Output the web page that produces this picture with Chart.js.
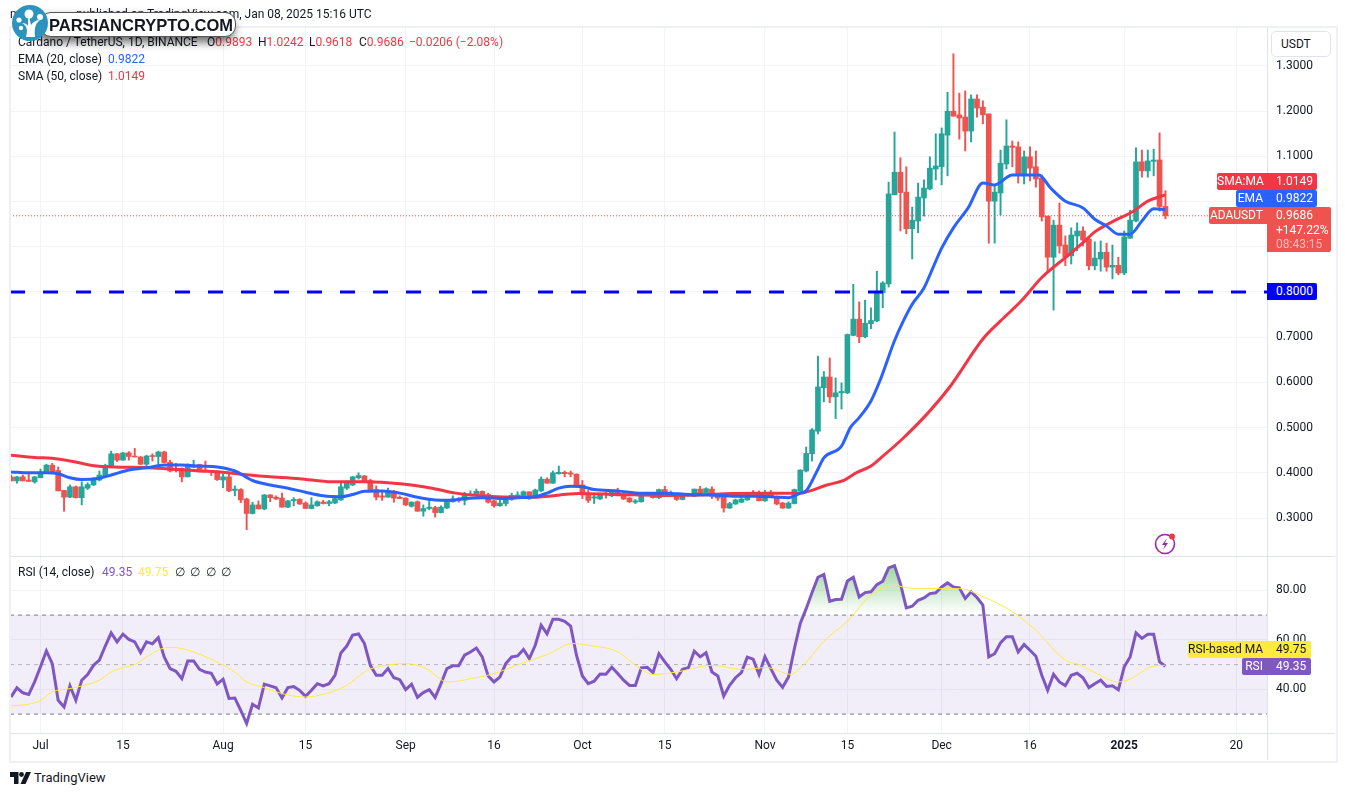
<!DOCTYPE html>
<html>
<head>
<meta charset="utf-8">
<title>ADAUSDT</title>
<script src="https://cdn.jsdelivr.net/npm/chart.js@4/dist/chart.umd.js"></script>
<style>
html, body { margin: 0; padding: 0; background: #fff; }
body { width: 1345px; height: 796px; position: relative; overflow: hidden; font-family: Roboto, sans-serif; font-size: 12px; color: #131722; }
canvas { position: absolute; left: 0; }
#frame { position: absolute; left: 9px; top: 26px; width: 1325px; height: 733px; border: 2px solid #eef0f5; pointer-events: none; }
.line { position: absolute; background: #e0e3eb; }
.t { position: absolute; white-space: nowrap; line-height: 16px; height: 16px; }
.tag { position: absolute; color: #fff; white-space: nowrap; text-align: right; line-height: 17px; height: 17px; padding-right: 4px; box-sizing: border-box; border-radius: 2px 0 0 2px; }
.val { position: absolute; color: #fff; white-space: nowrap; text-align: left; line-height: 17px; height: 17px; padding-left: 9px; box-sizing: border-box; border-radius: 0 2px 2px 0; }
.red { color: #f23645; }
#logoPill { position: absolute; left: 40px; top: 12px; width: 196px; height: 25px; background: #fff; border: 1px solid #555; border-radius: 11px; box-sizing: border-box; box-shadow: -2px 5px 10px rgba(0,0,0,.6); font-family: "Liberation Sans", sans-serif; font-weight: bold; font-size: 16.5px; line-height: 24px; padding-left: 8px; color: #131722; white-space: nowrap; }
</style>
</head>
<body>
<canvas id="graficoPreco" width="1345" height="556" style="top:0"></canvas>
<canvas id="graficoRsi" width="1345" height="205" style="top:556px"></canvas>

<div id="frame"></div>
<div class="line" style="left:10px;top:556px;width:1325px;height:1px"></div>
<div class="line" style="left:10px;top:733px;width:1325px;height:1px"></div>
<div class="line" style="left:1267px;top:27px;width:1px;height:733px"></div>

<div class="t" style="left:10px;top:6px">m</div>
<div class="t" style="left:76px;top:6px">published on TradingView.com, Jan 08, 2025 15:16 UTC</div>

<div class="t" style="left:18px;top:34px">Cardano / TetherUS, 1D, BINANCE</div>
<div class="t" style="left:207px;top:34px">O<span class="red">0.9893</span></div>
<div class="t" style="left:258px;top:34px">H<span class="red">1.0242</span></div>
<div class="t" style="left:309px;top:34px">L<span class="red">0.9618</span></div>
<div class="t" style="left:359px;top:34px">C<span class="red">0.9686</span></div>
<div class="t red" style="left:409px;top:34px">−0.0206 (−2.08%)</div>
<div class="t" style="left:18px;top:51px">EMA (20, close)</div>
<div class="t" style="left:108px;top:51px;color:#2962ff">0.9822</div>
<div class="t" style="left:18px;top:68px">SMA (50, close)</div>
<div class="t red" style="left:108px;top:68px">1.0149</div>

<div class="t" style="left:18px;top:564px">RSI (14, close)</div>
<div class="t" style="left:102px;top:564px;color:#7e57c2">49.35</div>
<div class="t" style="left:138px;top:564px;color:#ffeb3b">49.75</div>
<div class="t" style="left:175px;top:564px">∅</div>
<div class="t" style="left:190px;top:564px">∅</div>
<div class="t" style="left:206px;top:564px">∅</div>
<div class="t" style="left:221px;top:564px">∅</div>

<div class="t" style="left:1271px;top:31px;width:60px;height:26px;box-sizing:border-box;border:1px solid #e0e3eb;border-radius:5px;line-height:24px;padding-left:9px;background:#fff">USDT</div>

<div class="tag" style="left:1217px;top:173px;width:50px;background:#f23645">SMA:MA</div>
<div class="val" style="left:1267px;top:173px;width:50px;background:#f23645">1.0149</div>
<div class="tag" style="left:1236px;top:190px;width:31px;background:#2962ff">EMA</div>
<div class="val" style="left:1267px;top:190px;width:50px;background:#2962ff">0.9822</div>
<div class="tag" style="left:1209px;top:207px;width:58px;background:#ef5350">ADAUSDT</div>
<div class="val" style="left:1267px;top:207px;width:64px;height:45px;background:#ef5350;line-height:14.5px;padding-top:1px">0.9686<br>+147.22%<br><span style="opacity:.6">08:43:15</span></div>
<div class="val" style="left:1267px;top:283px;width:50px;background:#0000ff">0.8000</div>
<div class="tag" style="left:1188px;top:641px;width:79px;background:#ffeb3b;color:#131722">RSI-based MA</div>
<div class="val" style="left:1267px;top:641px;width:44px;background:#ffeb3b;color:#131722">49.75</div>
<div class="tag" style="left:1242px;top:658px;width:25px;background:#7e57c2">RSI</div>
<div class="val" style="left:1267px;top:658px;width:44px;background:#7e57c2">49.35</div>

<svg style="position:absolute;left:1153px;top:531px" width="26" height="26" viewBox="0 0 26 26">
  <circle cx="12" cy="13" r="9.5" fill="none" stroke="#9c27b0" stroke-width="1.6"/>
  <path d="M14 7 L9 14 L12 14 L10 19 L15 12 L12 12 Z" fill="#9c27b0"/>
  <circle cx="19" cy="5.5" r="3" fill="#f23645"/>
</svg>

<div id="logoPill">PARSIANCRYPTO.COM</div>
<svg style="position:absolute;left:12px;top:5px" width="36" height="36" viewBox="0 0 36 36">
  <circle cx="18" cy="18" r="18" fill="#2b93bd"/>
  <path d="M14 32 C16 25 15 21 10 18 C13 18 15 19 16 21 C16 16 16 13 17 11 C18 14 18 17 19 20 C21 17 24 15 28 15 C24 18 22 22 23 32 Z" fill="#fff"/>
  <circle cx="17" cy="9" r="4.5" fill="#fff"/>
  <circle cx="7" cy="15" r="2.6" fill="#fff"/>
  <circle cx="9" cy="23" r="2.2" fill="#fff"/>
  <circle cx="28" cy="12" r="3" fill="#fff"/>
</svg>

<svg style="position:absolute;left:10px;top:772px" width="21" height="12" viewBox="0 0 21 12">
  <path d="M0 0 H8.5 V12 H4 V5 H0 Z" fill="#131722"/>
  <circle cx="11.5" cy="2.5" r="2.4" fill="#131722"/>
  <path d="M16 0 H21 L15.5 12 H10.5 Z" fill="#131722"/>
</svg>
<div class="t" style="left:34px;top:770px;font-size:13px">TradingView</div>

<script>
// dias contados a partir de 1 de julho de 2024
const primeiroDia = -5;

const opens = [
.391,.382,.391,.384,.380,
.389,.399,.417,.405,.361,.346,.369,.345,.366,.373,
.384,.393,.413,.442,.428,.444,.437,.435,.419,.438,
.436,.446,.423,.410,.410,.391,.412,.418,.406,.404,
.402,.384,.391,.361,.363,.342,.310,.329,.320,.351,
.346,.344,.324,.338,.341,.333,.321,.327,.335,.332,
.333,.340,.366,.373,.389,.393,.383,.363,.349,.346,
.358,.346,.344,.326,.336,.315,.321,.323,.312,.322,
.336,.341,.339,.350,.350,.359,.352,.338,.327,.332,
.341,.348,.348,.358,.347,.360,.386,.377,.398,.401,
.400,.397,.373,.351,.344,.342,.355,.349,.357,.352,
.344,.335,.336,.351,.352,.345,.363,.356,.351,.341,
.349,.348,.364,.355,.364,.349,.346,.322,.331,.335,
.340,.356,.355,.338,.356,.347,.333,.322,.332,.360,
.404,.442,.492,.588,.612,.568,.577,.577,.704,.740,
.701,.730,.736,.798,.818,1.015,1.065,1.021,.940,.957,
1.008,1.028,1.072,1.077,1.147,1.200,1.192,1.187,1.156,1.227,
1.209,1.194,1.001,1.019,1.083,1.123,1.121,1.059,1.099,1.077,
1.052,.968,.877,.948,.904,.880,.924,.935,.917,.858,
.873,.888,.855,.859,.842,.919,.957,1.088,1.068,1.089,
1.092,.9893];

const highs = [
.395,.392,.395,.400,.392,
.408,.419,.421,.413,.361,.373,.371,.380,.378,.389,
.404,.419,.448,.443,.445,.447,.454,.436,.439,.442,
.448,.448,.428,.421,.411,.420,.428,.419,.426,.405,
.404,.397,.397,.371,.365,.344,.335,.338,.352,.352,
.349,.355,.339,.345,.343,.336,.345,.338,.339,.339,
.346,.378,.382,.392,.400,.394,.386,.371,.360,.366,
.361,.349,.345,.336,.338,.329,.340,.326,.327,.340,
.349,.345,.357,.360,.364,.360,.355,.339,.341,.346,
.355,.358,.360,.358,.364,.391,.389,.404,.415,.404,
.404,.398,.383,.361,.351,.355,.357,.358,.366,.355,
.346,.341,.355,.357,.355,.364,.370,.360,.355,.355,
.355,.364,.370,.367,.369,.354,.346,.335,.342,.346,
.357,.361,.360,.361,.361,.349,.335,.336,.364,.407,
.457,.498,.658,.624,.654,.610,.599,.707,.817,.778,
.782,.765,.846,.823,1.043,1.154,1.097,1.077,.988,1.041,
1.048,1.099,1.150,1.163,1.242,1.327,1.240,1.245,1.236,1.236,
1.223,1.194,1.035,1.114,1.181,1.134,1.132,1.112,1.121,1.112,
1.059,.968,.959,.997,.924,.942,.953,.944,.922,.911,
.913,.908,.904,.877,.935,.981,1.119,1.114,1.114,1.116,
1.152,1.0242];

const lows = [
.382,.377,.382,.381,.377,
.389,.398,.398,.360,.315,.345,.344,.329,.363,.372,
.382,.392,.411,.425,.428,.428,.435,.418,.415,.426,
.415,.422,.402,.402,.380,.391,.411,.402,.402,.394,
.383,.367,.358,.349,.334,.274,.309,.320,.318,.336,
.341,.324,.323,.327,.330,.321,.320,.326,.331,.327,
.332,.339,.363,.372,.386,.378,.361,.340,.339,.346,
.335,.343,.327,.324,.315,.304,.318,.302,.311,.321,
.335,.335,.329,.349,.349,.348,.333,.324,.326,.327,
.339,.346,.347,.341,.346,.358,.377,.377,.397,.391,
.391,.370,.343,.334,.332,.341,.344,.347,.349,.341,
.334,.332,.335,.351,.344,.343,.349,.348,.339,.340,
.348,.347,.351,.355,.343,.339,.313,.321,.330,.334,
.339,.349,.338,.337,.345,.329,.321,.321,.331,.359,
.402,.426,.486,.557,.555,.520,.541,.575,.703,.688,
.699,.719,.734,.765,.811,1.015,.935,.929,.873,.931,
.968,1.026,1.048,1.037,1.057,1.189,1.138,1.112,1.132,1.187,
1.172,.908,.908,.970,1.072,1.077,1.041,1.039,1.046,1.032,
.957,.845,.760,.886,.858,.862,.891,.902,.849,.849,
.846,.846,.829,.838,.838,.919,.955,1.054,1.054,1.057,
.979,.9618];

const closes = [
.382,.391,.382,.381,.391,
.401,.417,.401,.360,.346,.369,.345,.369,.374,.387,
.395,.415,.442,.428,.444,.436,.435,.419,.437,.436,
.446,.423,.404,.407,.391,.415,.415,.404,.404,.402,
.385,.391,.360,.364,.340,.310,.329,.320,.351,.345,
.342,.324,.338,.341,.331,.321,.329,.336,.332,.336,
.343,.369,.377,.391,.394,.380,.362,.346,.346,.358,
.344,.343,.329,.335,.315,.321,.324,.312,.324,.338,
.342,.338,.352,.353,.359,.350,.335,.327,.333,.342,
.350,.351,.358,.347,.362,.386,.377,.400,.401,.398,
.397,.371,.351,.339,.347,.352,.352,.357,.349,.342,
.336,.338,.351,.354,.345,.363,.351,.349,.341,.349,
.352,.364,.352,.365,.348,.344,.322,.332,.340,.342,
.355,.353,.338,.356,.347,.331,.322,.333,.363,.406,
.443,.495,.590,.612,.568,.577,.580,.706,.740,.701,
.731,.737,.800,.820,1.017,1.065,1.020,.940,.959,1.010,
1.030,1.074,1.079,1.150,1.200,1.189,1.185,1.156,1.227,1.207,
1.192,1.001,1.021,1.085,1.123,1.120,1.059,1.099,1.074,1.050,
.966,.877,.948,.902,.877,.926,.935,.915,.858,.875,
.888,.855,.859,.842,.922,.959,1.088,1.068,1.090,1.092,
.9893,.9686];

const emaDias = [-5,-2,1,3,5,7,10,12,15,18,21,24,27,30,33,36,39,42,45,48,51,53,55,58,61,64,67,69,72,75,78,81,84,86,88,90,92,94,98,102,106,110,114,118,122,125,127,129,130,132,133,136,137.5,139,141,142.5,145,146.5,148,150,151.5,153,155,157.5,160,162,165,169.5,171.5,174,177,179,181,183,185,187,189,191];
const emaValores = [.402,.400,.400,.398,.389,.385,.388,.395,.406,.411,.417,.417,.415,.413,.404,.383,.373,.366,.357,.349,.347,.352,.359,.360,.355,.346,.340,.339,.343,.345,.343,.345,.347,.355,.366,.370,.369,.363,.360,.355,.355,.352,.351,.348,.348,.346,.345,.355,.360,.408,.433,.459,.500,.522,.559,.603,.692,.736,.773,.809,.853,.897,.942,.986,1.041,1.037,1.059,1.059,1.030,1.001,.986,.961,.946,.928,.928,.957,.984,.9822];

const smaDias = [-5,-1,2,5.5,9.5,12.5,18.5,22.5,27,30.5,34,38.5,44,49.5,55,61,66.5,70.5,77.5,83.5,91.5,98,106,112,117.5,128,129.5,133.5,136.5,138.5,141,142.5,146.5,151,154.5,160,163,166.5,170,174,177,179,182.5,185.5,188,191];
const smaValores = [.439,.434,.432,.425,.415,.413,.411,.408,.404,.402,.397,.392,.387,.380,.380,.376,.366,.355,.347,.346,.354,.352,.350,.351,.354,.355,.356,.373,.384,.400,.415,.431,.477,.537,.592,.696,.736,.780,.832,.876,.909,.933,.959,.978,1.001,1.0149];

const rsiValores = [
36.9,40.6,38.6,37.9,43.0,
49.1,55.5,50.4,35.6,32.9,41.4,35.6,43.7,46.0,49.7,
51.8,57.5,62.8,59.2,62.3,60.2,59.2,54.8,59.2,58.4,
60.9,53.1,48.4,47.3,44.3,51.5,51.5,48.1,47.0,46.5,
42.2,44.1,36.3,36.5,31.5,26.2,34.0,32.5,42.1,41.4,
40.6,36.5,40.7,41.1,39.6,37.2,39.6,42.3,41.4,42.3,
45.7,54.7,57.5,61.9,62.4,58.5,49.7,45.7,45.7,48.4,
44.7,43.9,39.9,42.1,36.8,38.7,39.9,36.7,42.3,48.4,
49.5,49.5,53.8,55.1,56.7,53.1,45.4,43.0,45.0,50.4,
53.1,53.5,56.1,52.4,57.8,65.9,62.4,68.3,68.3,67.5,
65.6,53.8,45.4,42.3,43.3,46.2,46.1,48.9,46.4,43.7,
41.6,41.6,48.7,48.9,46.8,54.4,51.1,48.1,44.3,48.1,
48.7,55.4,53.1,54.8,47.0,45.4,37.3,41.6,44.7,46.8,
53.0,52.2,46.0,53.2,48.4,43.7,40.8,45.0,56.5,66.6,
72.6,79.1,85.3,86.4,75.6,76.3,76.4,83.8,85.3,77.3,
79.1,79.4,82.3,83.7,89.1,90.0,82.7,72.9,73.6,76.0,
76.9,78.7,79.0,81.4,83.0,81.4,81.0,76.7,79.4,77.1,
74.0,53.1,54.4,58.8,61.3,61.3,55.1,58.1,55.8,53.4,
45.7,39.6,46.1,43.0,41.5,45.7,46.5,44.7,40.7,42.3,
43.7,41.2,41.4,39.8,49.1,53.1,62.8,60.6,62.3,62.3,
51.1,49.35];

const mediaRsiDias = [-5,-2,0,2,5,10,12,14,16,18,21,22.5,26,30.5,33,35,38,41,45,48.5,52,55.5,58.7,62,65.5,68.5,69.5,73,77,82,86,90.3,93.8,97.8,101.8,104,108,114,119.3,123.3,127.3,129.5,133,137,141,145,146.8,150,156,159.8,164.9,168.8,174,176.7,179,183,185,188.5,191];
const mediaRsiValores = [33.3,34.0,35.5,39.0,40.3,43.7,47.0,48.7,50.0,53.1,56.7,56.9,55.1,50.4,47.0,43.0,40.7,38.3,36.9,38.3,41.6,47.7,49.7,50.4,48.4,43.3,43.0,44.3,46.4,50.8,54.0,58.5,57.5,55.4,48.4,46.0,47.0,49.7,48.0,48.8,46.1,49.7,59.4,67.5,78.0,82.1,81.1,80.7,80.7,77.7,71.5,64.3,51.8,49.7,46.8,43.0,44.1,49.1,49.75];

const tickDias = [0,14,31,45,62,77,92,106,123,137,153,168,184,203];
const tickNomes = ["Jul","15","Aug","15","Sep","16","Oct","15","Nov","15","Dec","16","2025","20"];
const ticksPreco = [0.3,0.4,0.5,0.6,0.7,0.8,0.9,1.0,1.1,1.2,1.3];
const ticksRsi = [40,60,80];
const nivel = 0.8;
const ultimoPreco = 0.9686;

const fonte = 'Roboto, sans-serif';
const corGrade = "#f1f3f7";
const xMin = -5.178, xMax = 208.24;

function pontos(dias, valores){
    return dias.map((d, i) => ({x: d, y: valores[i]}));
}

function semMargens(s){
    s.paddingTop = 0;
    s.paddingBottom = 0;
    s.paddingLeft = 0;
    s.paddingRight = 0;
}

let corpos = [], pavios = [], cores = [];
for(let i = 0; i < opens.length; i++){
    let d = primeiroDia + i;
    corpos.push({x: d, y: [opens[i], closes[i]]});
    pavios.push({x: d, y: [lows[i], highs[i]]});
    cores.push(closes[i] >= opens[i] ? "#26a69a" : "#ef5350");
}

function linhaHorizontal(valor, cor, largura, tracos, ordem){
    return {
        type: "line",
        data: [{x: xMin, y: valor}, {x: xMax, y: valor}],
        borderColor: cor,
        borderWidth: largura,
        borderDash: tracos,
        pointRadius: 0,
        order: ordem
    };
}

new Chart(document.getElementById("graficoPreco"), {
    type: "bar",
    data: {
        datasets: [
            {data: pavios, backgroundColor: cores, barThickness: 1.3, grouped: false, order: 6},
            {data: corpos, backgroundColor: cores, barThickness: 5, grouped: false, order: 5},
            linhaHorizontal(nivel, "#0000ff", 3, [15, 18], 4),
            linhaHorizontal(ultimoPreco, "#ef5350", 1, [1, 2], 3),
            {type: "line", data: pontos(smaDias, smaValores), borderColor: "#f23645", borderWidth: 3, pointRadius: 0, cubicInterpolationMode: "monotone", order: 2},
            {type: "line", data: pontos(emaDias, emaValores), borderColor: "#2962ff", borderWidth: 3, pointRadius: 0, cubicInterpolationMode: "monotone", order: 1}
        ]
    },
    options: {
        responsive: false,
        animation: false,
        devicePixelRatio: 1,
        layout: {padding: {left: 10, right: 10, top: 27, bottom: 0}},
        plugins: {legend: {display: false}, tooltip: {enabled: false}},
        scales: {
            x: {
                type: "linear", min: xMin, max: xMax, offset: false,
                afterBuildTicks: s => { s.ticks = tickDias.map(v => ({value: v})); },
                afterFit: s => { s.height = 0; semMargens(s); },
                ticks: {display: false},
                border: {display: false},
                grid: {color: corGrade, drawTicks: false, offset: false}
            },
            y: {
                position: "right", min: 0.21593, max: 1.38628,
                afterBuildTicks: s => { s.ticks = ticksPreco.map(v => ({value: v})); },
                afterFit: s => { s.width = 68; semMargens(s); },
                ticks: {padding: 9, color: "#131722", font: {family: fonte, size: 12}, callback: v => v.toFixed(4)},
                border: {display: false},
                grid: {color: corGrade, drawTicks: false}
            }
        }
    }
});

const canvasRsi = document.getElementById("graficoRsi");
const gradiente = canvasRsi.getContext("2d").createLinearGradient(0, 9, 0, 58);
gradiente.addColorStop(0, "rgba(76,175,80,0.55)");
gradiente.addColorStop(1, "rgba(76,175,80,0)");

new Chart(canvasRsi, {
    type: "line",
    data: {
        datasets: [
            Object.assign(linhaHorizontal(70, "#787b86", 1, [4, 4], 8), {fill: {target: {value: 30}}, backgroundColor: "rgba(126,87,194,0.1)"}),
            linhaHorizontal(50, "rgba(120,123,134,0.5)", 1, [4, 4], 7),
            linhaHorizontal(30, "#787b86", 1, [4, 4], 6),
            {
                data: rsiValores.map((v, i) => ({x: primeiroDia + i, y: v})),
                borderColor: "#7e57c2", borderWidth: 3, pointRadius: 0,
                fill: {target: {value: 70}, above: gradiente, below: "rgba(0,0,0,0)"},
                order: 2
            },
            {data: pontos(mediaRsiDias, mediaRsiValores), borderColor: "#ffeb3b", borderWidth: 1, pointRadius: 0, cubicInterpolationMode: "monotone", order: 1}
        ]
    },
    options: {
        responsive: false,
        animation: false,
        devicePixelRatio: 1,
        layout: {padding: {left: 10, right: 10, top: 0, bottom: 1}},
        plugins: {legend: {display: false}, tooltip: {enabled: false}},
        scales: {
            x: {
                type: "linear", min: xMin, max: xMax,
                afterBuildTicks: s => { s.ticks = tickDias.map(v => ({value: v})); },
                afterFit: s => { s.height = 27; semMargens(s); },
                ticks: {
                    autoSkip: false, maxRotation: 0, padding: 6, color: "#131722",
                    font: c => ({family: fonte, size: 12, weight: c.tick && c.tick.value === 184 ? "bold" : "normal"}),
                    callback: v => tickNomes[tickDias.indexOf(v)]
                },
                border: {display: false},
                grid: {color: corGrade, drawTicks: false}
            },
            y: {
                position: "right", min: 22.36, max: 93.88,
                afterBuildTicks: s => { s.ticks = ticksRsi.map(v => ({value: v})); },
                afterFit: s => { s.width = 68; semMargens(s); },
                ticks: {padding: 9, color: "#131722", font: {family: fonte, size: 12}, callback: v => v.toFixed(2)},
                border: {display: false},
                grid: {color: corGrade, drawTicks: false}
            }
        }
    }
});
</script>
</body>
</html>
